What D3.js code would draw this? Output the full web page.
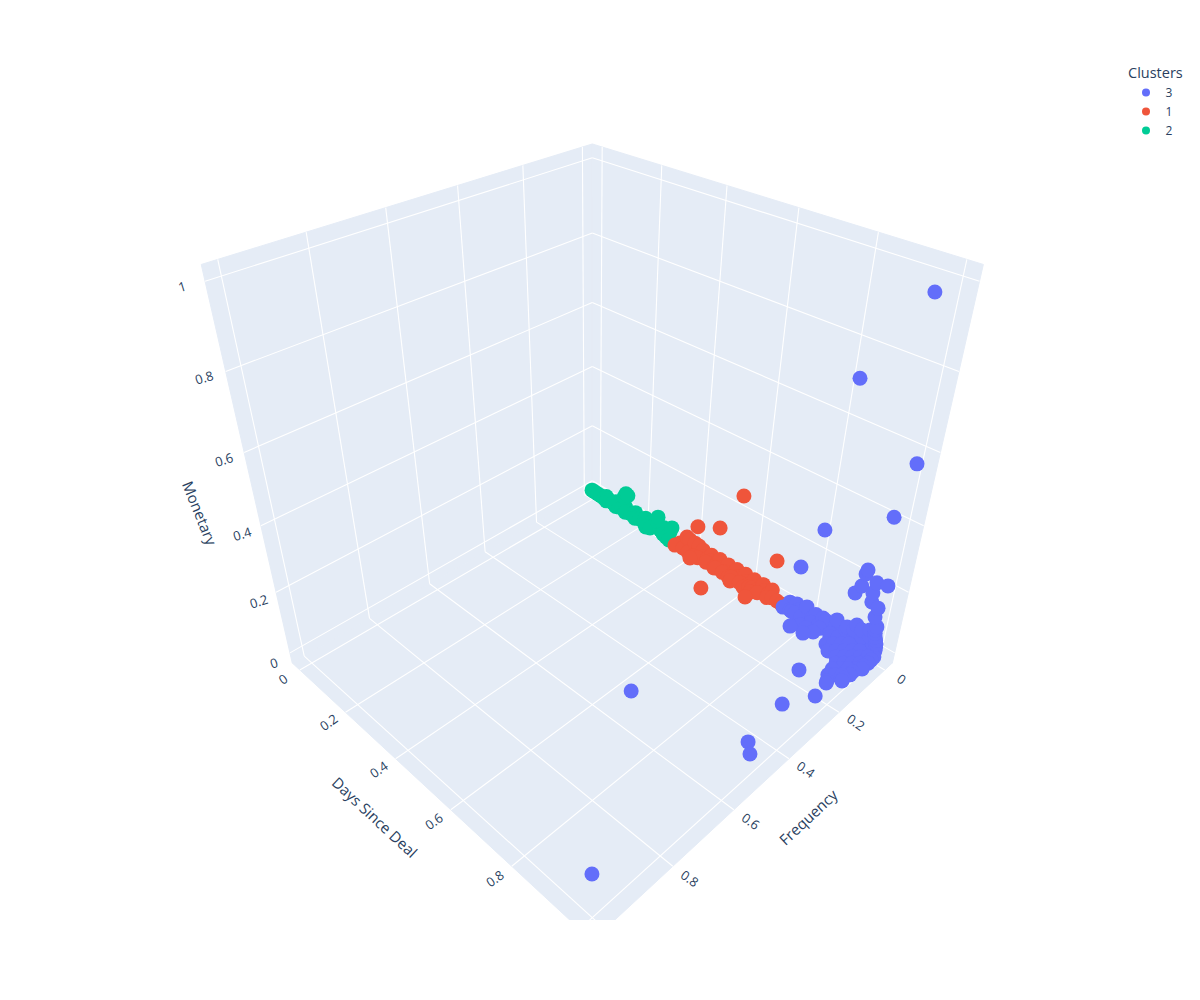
<!DOCTYPE html>
<html><head><meta charset="utf-8"><style>html,body{margin:0;background:#fff}svg{display:block}text{font-family:"Open Sans",sans-serif;fill:#2a3f5f}</style></head>
<body><script src="https://cdn.jsdelivr.net/npm/d3@7"></script><div id="chart"></div>
<script>
const axisTicks=[0,0.2,0.4,0.6,0.8,1];
const legendTitle="Clusters";
const clusterNames=["3","1","2"];
const clusterColors=["#636efa","#EF553B","#00cc96"];

const days2=[0.000,0.013,0.027,0.041,0.055,0.065,0.078,0.092,0.105,0.119,0.128,0.142,0.155,0.168,0.181,0.194,0.203,0.218,0.237,0.246,
0.258,0.254,0.242,0.268,0.265,0.140,0.148,0.133,0.281,0.299,0.315,0.330,0.322,0.316,0.292,
0.060,0.100,0.140,0.180,0.220,0.070,0.110,0.150,0.190,0.230];
const freq2=[0.001,0.002,0.003,0.004,0.005,0.002,0.003,0.004,0.005,0.006,0.003,0.004,0.005,0.006,0.007,0.008,0.005,0.004,0.007,0.000,
0.000,0.017,0.022,0.000,0.000,0.000,0.000,0.000,0.003,0.011,0.016,0.020,0.000,0.000,0.000,
0.000,0.000,0.000,0.000,0.000,0.010,0.011,0.012,0.013,0.014];
const mon2=[0.000,0.000,0.000,0.000,0.000,0.000,0.000,0.000,0.000,0.000,0.000,0.000,0.000,0.000,0.000,0.000,0.000,0.000,0.000,0.009,
0.004,0.000,0.000,0.038,0.022,0.056,0.053,0.041,0.000,0.000,0.000,0.000,0.028,0.010,0.012,
0.006,0.007,0.008,0.008,0.009,0.000,0.000,0.000,0.000,0.000];

const days1=[0.415,0.491,0.683,0.531,0.558,0.358,0.362,0.379,0.378,0.390,0.409,0.424,0.383,0.405,0.426,0.426,0.426,0.449,0.428,0.463,
0.476,0.497,0.504,0.513,0.534,0.554,0.555,0.568,0.571,0.579,0.599,0.609,0.613,0.628,0.643,0.649,0.659,0.638,0.635,0.674,
0.691,0.708,0.723,
0.440,0.470,0.500,0.530,0.560,0.590,0.620,0.650,0.680,0.440,0.470,0.500,0.530,0.560,0.590,0.620,0.650,0.680];
const freq1=[0.000,0.000,0.000,0.117,0.000,0.026,0.009,0.000,0.005,0.000,0.000,0.000,0.020,0.024,0.027,0.040,0.009,0.011,0.000,0.010,
0.009,0.013,0.025,0.015,0.019,0.029,0.010,0.039,0.012,0.004,0.013,0.034,0.017,0.020,0.017,0.000,0.007,0.062,0.037,0.009,
0.014,0.015,0.017,
0.000,0.000,0.000,0.000,0.000,0.000,0.000,0.000,0.000,0.024,0.023,0.026,0.025,0.024,0.026,0.024,0.025,0.023];
const mon1=[0.082,0.119,0.114,0.000,0.260,0.000,0.000,0.026,0.000,0.022,0.021,0.019,0.000,0.000,0.000,0.000,0.000,0.000,0.007,0.000,
0.000,0.000,0.000,0.000,0.000,0.000,0.000,0.000,0.000,0.000,0.000,0.000,0.000,0.000,0.000,0.011,0.000,0.000,0.000,0.000,
0.000,0.000,0.000,
0.013,0.012,0.014,0.012,0.013,0.014,0.012,0.013,0.012,0.000,0.000,0.000,0.000,0.000,0.000,0.000,0.000,0.000];

const days3=[0.965,0.833,1.004,0.977,0.807,0.756,0.658,0.955,0.980,0.947,0.940,0.980,0.901,0.939,0.936,0.931,0.917,0.997,0.968,0.963,
0.965,0.984,0.981,0.991,0.739,0.734,0.791,0.770,0.830,0.791,0.794,0.846,0.842,0.882,0.938,0.913,0.754,0.769,0.813,0.840,
0.807,0.824,0.859,0.890,0.911,0.933,0.954,0.975,0.988,0.887,0.902,0.916,0.937,0.958,0.979,0.992,0.895,0.908,0.922,0.936,
0.950,0.969,0.990,0.998,0.913,0.927,0.942,0.956,0.970,0.984,0.999,0.940,0.954,0.968,0.982,0.996,1.006,0.952,0.966,0.980,
0.994,1.008,0.957,0.970,0.984,0.998,1.009,0.961,0.974,0.986,0.999,0.971,0.997,0.974,
0.990,0.995,0.999,1.007,1.005,0.998,0.994,0.760,0.790,0.820,0.850,0.880,0.760,0.790,0.820,0.850,0.880];
const freq3=[0.000,0.000,0.000,0.000,0.000,0.000,0.526,0.453,0.478,0.948,0.304,0.227,0.183,0.000,0.000,0.000,0.000,0.000,0.000,0.000,
0.000,0.000,0.000,0.000,0.000,0.023,0.070,0.020,0.068,0.000,0.018,0.046,0.000,0.000,0.000,0.000,0.019,0.005,0.004,0.015,
0.048,0.047,0.000,0.000,0.000,0.000,0.000,0.000,0.000,0.031,0.017,0.002,0.000,0.000,0.000,0.000,0.060,0.047,0.033,0.019,
0.004,0.000,0.000,0.000,0.077,0.063,0.049,0.035,0.021,0.006,0.000,0.081,0.067,0.053,0.039,0.025,0.014,0.099,0.085,0.071,
0.057,0.043,0.123,0.109,0.095,0.081,0.071,0.147,0.135,0.123,0.109,0.166,0.140,0.173,
0.000,0.000,0.000,0.028,0.060,0.095,0.130,0.000,0.000,0.000,0.000,0.000,0.021,0.022,0.020,0.023,0.021];
const mon3=[0.966,0.718,0.572,0.412,0.283,0.136,0.000,0.000,0.000,0.000,0.000,0.000,0.000,0.233,0.219,0.178,0.147,0.218,0.210,0.175,
0.147,0.139,0.108,0.082,0.006,0.000,0.000,0.000,0.000,0.022,0.000,0.000,0.016,0.035,0.054,0.031,0.000,0.000,0.000,0.000,
0.000,0.000,0.003,0.005,0.019,0.034,0.047,0.061,0.070,0.000,0.000,0.000,0.012,0.026,0.040,0.049,0.000,0.000,0.000,0.000,
0.000,0.010,0.024,0.029,0.000,0.000,0.000,0.000,0.000,0.000,0.006,0.000,0.000,0.000,0.000,0.000,0.000,0.000,0.000,0.000,
0.000,0.000,0.000,0.000,0.000,0.000,0.000,0.000,0.000,0.000,0.000,0.000,0.000,0.000,
0.060,0.039,0.017,0.000,0.000,0.000,0.000,0.013,0.012,0.014,0.013,0.012,0.000,0.000,0.000,0.000,0.000];

const clusters=[[days3,freq3,mon3],[days1,freq1,mon1],[days2,freq2,mon2]];

const W=1200,H=1000;
const svg=d3.select("#chart").append("svg").attr("width",W).attr("height",H);
const box=d3.scaleLinear().domain([-0.035,1.035]).range([0,1]);

// Perspective camera, in unit-box coordinates (0..1 on each axis)
const cam={cx:592.3,cy:490,a:243.4,k:0.1888,d:47.8,f:-373.2};
function pw(X,Y,Z){return 1-cam.k*(X+Y+Z);}
function proj(X,Y,Z){const w=pw(X,Y,Z);return [cam.cx+cam.a*(X-Y)/w,(cam.cy+cam.d*(X+Y)+cam.f*Z)/w];}
const polyLine=d3.line();

svg.append("clipPath").attr("id","sceneClip").append("rect").attr("x",0).attr("y",0).attr("width",W).attr("height",920);
const scene=svg.append("g").attr("clip-path","url(#sceneClip)");

const walls=[
  [[0,0,0],[0,1,0],[0,1,1],[0,0,1]],
  [[0,0,0],[1,0,0],[1,0,1],[0,0,1]],
  [[0,0,0],[1,0,0],[1,1,0],[0,1,0]]
];
scene.selectAll("path.wall").data(walls).join("path").attr("class","wall")
  .attr("d",q=>polyLine(q.map(p=>proj(...p)))+"Z")
  .attr("fill","#E5ECF6").attr("stroke","#E5ECF6").attr("stroke-width",1).attr("stroke-linejoin","round");

const gridSegs=[];
axisTicks.forEach(t=>{const s=box(t);
  gridSegs.push([[0,s,0],[0,s,1]],[[0,0,s],[0,1,s]]);   // left wall
  gridSegs.push([[s,0,0],[s,0,1]],[[0,0,s],[1,0,s]]);   // right wall
  gridSegs.push([[s,0,0],[s,1,0]],[[0,s,0],[1,s,0]]);   // floor
});
scene.selectAll("path.grid").data(gridSegs).join("path").attr("class","grid")
  .attr("d",q=>polyLine(q.map(p=>proj(...p))))
  .attr("fill","none").attr("stroke","#fff").attr("stroke-width",1.1);

// Points, painted far to near
const pts=[];
clusters.forEach((c,i)=>c[0].forEach((_,j)=>{
  const X=box(c[0][j]),Y=box(c[1][j]),Z=box(c[2][j]);
  pts.push({X,Y,Z,i,w:pw(X,Y,Z)});
}));
pts.sort((a,b)=>b.w-a.w);
scene.selectAll("circle.pt").data(pts).join("circle").attr("class","pt")
  .attr("cx",d=>proj(d.X,d.Y,d.Z)[0]).attr("cy",d=>proj(d.X,d.Y,d.Z)[1])
  .attr("r",7.5).attr("fill",d=>clusterColors[d.i]);

// Tick labels
const fmt=d=>String(d);
function tickLabel(x,y,rot,t){
  svg.append("text").attr("transform",`translate(${x},${y}) rotate(${rot})`)
    .attr("text-anchor","middle").attr("dominant-baseline","central").attr("font-size",13).text(fmt(t));
}
axisTicks.filter(t=>t<1).forEach(t=>{
  const [x,y]=proj(box(t),1,0); tickLabel(x-17,y+9+4*t,-35,t);
  const [x2,y2]=proj(1,box(t),0); tickLabel(x2+17,y2+9+4*t,35,t);
});
axisTicks.forEach(t=>{
  const [x,y]=proj(0,1,box(t)); tickLabel(x-16-7*t,y+10-5*t,-17,t);
});

// Axis titles
[["Days Since Deal",375,817,43],["Frequency",808,817,-43],["Monetary",200,513,68]].forEach(([s,x,y,r])=>{
  svg.append("text").attr("transform",`translate(${x},${y}) rotate(${r})`)
    .attr("text-anchor","middle").attr("dominant-baseline","central").attr("font-size",15).text(s);
});

// Legend
svg.append("text").attr("x",1128).attr("y",78).attr("font-size",14.5).text(legendTitle);
const li=svg.selectAll("g.li").data(clusterNames).join("g").attr("class","li")
  .attr("transform",(d,i)=>`translate(1146,${92.5+19*i})`);
li.append("circle").attr("r",4).attr("fill",(d,i)=>clusterColors[i]);
li.append("text").attr("x",19.5).attr("y",4.3).attr("font-size",12).text(d=>d);
</script></body></html>
